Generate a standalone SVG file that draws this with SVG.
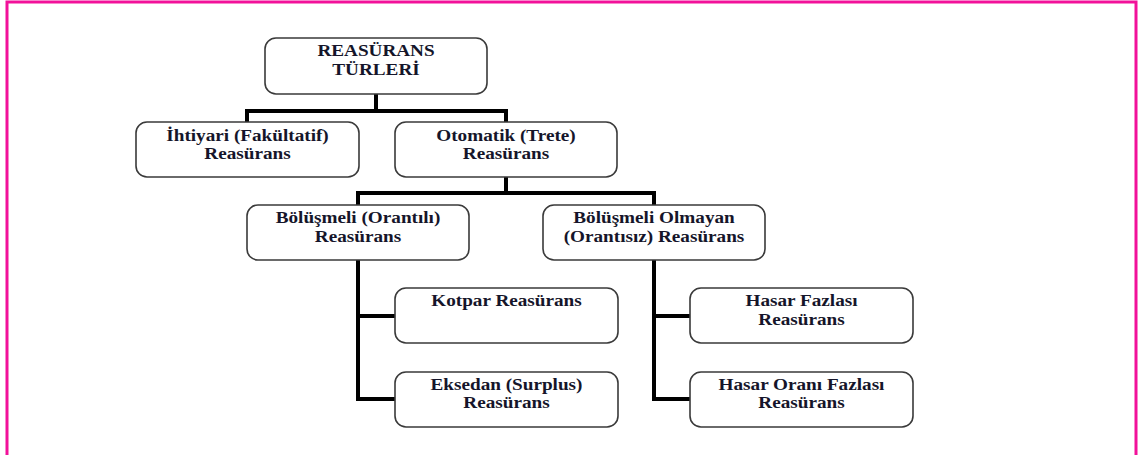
<svg xmlns="http://www.w3.org/2000/svg" width="1140" height="455" viewBox="0 0 1140 455">
<style>
.frame{fill:none;stroke:#f2119a;stroke-width:3}
.box{fill:#fff;stroke:#3a3a3a;stroke-width:1.6}
.conn{fill:none;stroke:#000;stroke-width:4;stroke-linejoin:miter;stroke-linecap:butt}
.t{font-family:"Liberation Serif","Times New Roman",serif;font-weight:bold;font-size:16px;fill:#15152a;text-anchor:middle}
</style>
<rect width="1140" height="455" fill="#fff"/>
<path class="frame" d="M7 455 V2 H1136 V455"/>
<g id="connectors">
<path class="conn" d="M376 94 V111 M247 122 V111 H506 V122"/>
<path class="conn" d="M506 177 V193 M358 205 V193 H654 V205"/>
<path class="conn" d="M358 260 V399 H395 M358 316 H395"/>
<path class="conn" d="M654 260 V399 H690 M654 316 H690"/>
</g>
<g id="root">
<rect class="box" x="265" y="38" width="222" height="56" rx="11"/>
<text class="t" transform="translate(376 0) scale(1.2 1)" y="56.5">REASÜRANS</text>
<text class="t" transform="translate(376 0) scale(1.2 1)" y="75">TÜRLERİ</text>
</g>
<g id="ihtiyari">
<rect class="box" x="136" y="122" width="223" height="55" rx="11"/>
<text class="t" transform="translate(247.5 0) scale(1.2 1)" y="141">İhtiyari (Fakültatif)</text>
<text class="t" transform="translate(247.5 0) scale(1.2 1)" y="159.5">Reasürans</text>
</g>
<g id="otomatik">
<rect class="box" x="395" y="122" width="222" height="55" rx="11"/>
<text class="t" transform="translate(506 0) scale(1.2 1)" y="141">Otomatik (Trete)</text>
<text class="t" transform="translate(506 0) scale(1.2 1)" y="159.5">Reasürans</text>
</g>
<g id="bolusmeli">
<rect class="box" x="247" y="205" width="222" height="55" rx="11"/>
<text class="t" transform="translate(358 0) scale(1.2 1)" y="223.5">Bölüşmeli (Orantılı)</text>
<text class="t" transform="translate(358 0) scale(1.2 1)" y="242">Reasürans</text>
</g>
<g id="bolusmeli-olmayan">
<rect class="box" x="543" y="205" width="222" height="55" rx="11"/>
<text class="t" transform="translate(654 0) scale(1.2 1)" y="223.5">Bölüşmeli Olmayan</text>
<text class="t" transform="translate(654 0) scale(1.2 1)" y="242">(Orantısız) Reasürans</text>
</g>
<g id="kotpar">
<rect class="box" x="395" y="288" width="223" height="55" rx="11"/>
<text class="t" transform="translate(506.5 0) scale(1.2 1)" y="306.5">Kotpar Reasürans</text>
</g>
<g id="eksedan">
<rect class="box" x="395" y="372" width="223" height="55" rx="11"/>
<text class="t" transform="translate(506.5 0) scale(1.2 1)" y="390">Eksedan (Surplus)</text>
<text class="t" transform="translate(506.5 0) scale(1.2 1)" y="408.5">Reasürans</text>
</g>
<g id="hasar-fazlasi">
<rect class="box" x="690" y="288" width="223" height="55" rx="11"/>
<text class="t" transform="translate(801.5 0) scale(1.2 1)" y="306.5">Hasar Fazlası</text>
<text class="t" transform="translate(801.5 0) scale(1.2 1)" y="325">Reasürans</text>
</g>
<g id="hasar-orani-fazlasi">
<rect class="box" x="690" y="372" width="223" height="55" rx="11"/>
<text class="t" transform="translate(801.5 0) scale(1.2 1)" y="390">Hasar Oranı Fazlası</text>
<text class="t" transform="translate(801.5 0) scale(1.2 1)" y="408.5">Reasürans</text>
</g>
</svg>
